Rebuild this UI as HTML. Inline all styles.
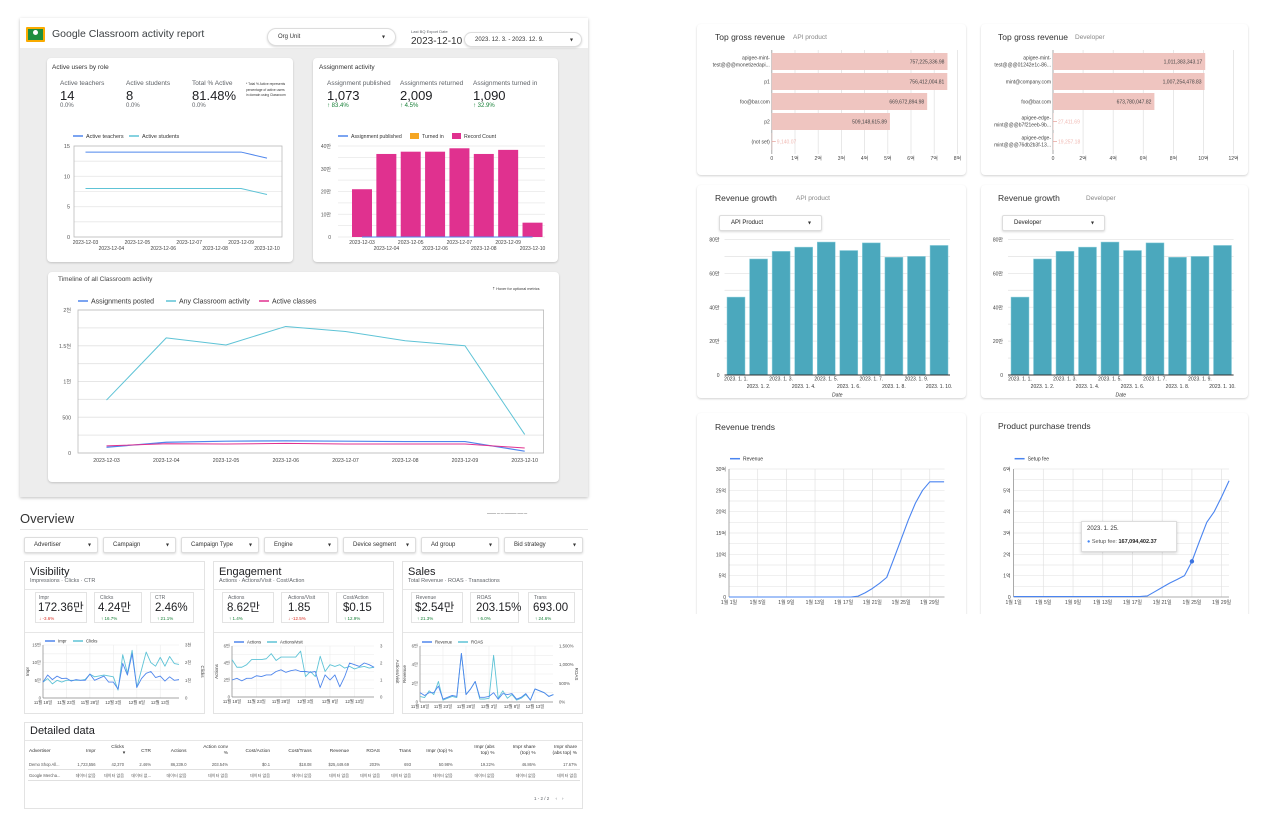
<!DOCTYPE html>
<html><head><meta charset="utf-8">
<style>
*{box-sizing:border-box;margin:0;padding:0}
body{width:1280px;height:838px;position:relative;background:#fff;font-family:"Liberation Sans","Noto Sans CJK KR",sans-serif;color:#202124;overflow:hidden}
.a{position:absolute}
.t{position:absolute;white-space:nowrap;line-height:1}
.card{position:absolute;background:#fff;border-radius:4px;box-shadow:0 1px 2px rgba(0,0,0,.18)}
.sq{position:absolute;background:#fff;border:1px solid #e3e3e3}
.dd{position:absolute;background:#fff;border:1px solid #ddd;border-radius:2px;box-shadow:0 1px 2px rgba(0,0,0,.15);font-size:6px;color:#333}
.dd span{position:absolute;top:50%;transform:translateY(-50%)}
.g{color:#5f6368}
.red{color:#d93025}.grn{color:#188038}
svg{position:absolute;left:0;top:0;pointer-events:none}
</style></head><body>

<!-- ========== Google Classroom panel ========== -->
<div class="a" style="left:20px;top:18px;width:568px;height:479px;background:#ededed;box-shadow:0 1px 3px rgba(0,0,0,.25)"></div>
<div class="a" style="left:20px;top:18px;width:568px;height:30px;background:#fff"></div>
<div class="a" style="left:26px;top:27px;width:19px;height:15px;background:#1e8e3e;border:2px solid #f9ab00;border-radius:1px"></div>
<div class="a" style="left:33px;top:30px;width:5px;height:5px;border-radius:50%;background:#fff"></div>
<div class="t" style="left:52px;top:29px;font-size:10.5px;color:#3c4043">Google Classroom activity report</div>
<div class="dd" style="left:267px;top:28px;width:129px;height:18px;border-radius:9px"><span style="left:10px">Org Unit</span><span style="right:10px">▾</span></div>
<div class="t g" style="left:411px;top:30px;font-size:4px">Last BQ Export Date</div>
<div class="t" style="left:411px;top:37px;font-size:10px;color:#333">2023-12-10</div>
<div class="dd" style="left:464px;top:32px;width:118px;height:15px;border-radius:8px"><span style="left:10px">2023. 12. 3. - 2023. 12. 9.</span><span style="right:8px">▾</span></div>

<div class="card" style="left:47px;top:58px;width:246px;height:204px"></div>
<div class="t" style="left:52px;top:65px;font-size:6.5px;color:#333">Active users by role</div>
<div class="t g" style="left:60px;top:81px;font-size:6.5px">Active teachers</div>
<div class="t" style="left:60px;top:89px;font-size:13px">14</div>
<div class="t g" style="left:60px;top:103px;font-size:6px">0.0%</div>
<div class="t g" style="left:126px;top:81px;font-size:6.5px">Active students</div>
<div class="t" style="left:126px;top:89px;font-size:13px">8</div>
<div class="t g" style="left:126px;top:103px;font-size:6px">0.0%</div>
<div class="t g" style="left:192px;top:81px;font-size:6.5px">Total % Active</div>
<div class="t" style="left:192px;top:89px;font-size:13px">81.48%</div>
<div class="t g" style="left:192px;top:103px;font-size:6px">0.0%</div>
<div class="a" style="left:246px;top:82px;width:42px;font-size:3.3px;line-height:1.7;color:#333">* Total % Active represents percentage of active users in domain using Classroom</div>

<div class="card" style="left:313px;top:58px;width:245px;height:204px"></div>
<div class="t" style="left:319px;top:65px;font-size:6.5px;color:#333">Assignment activity</div>
<div class="t g" style="left:327px;top:81px;font-size:6.5px">Assignment published</div>
<div class="t" style="left:327px;top:89px;font-size:13px">1,073</div>
<div class="t grn" style="left:327px;top:103px;font-size:6px">↑ 83.4%</div>
<div class="t g" style="left:400px;top:81px;font-size:6.5px">Assignments returned</div>
<div class="t" style="left:400px;top:89px;font-size:13px">2,009</div>
<div class="t grn" style="left:400px;top:103px;font-size:6px">↑ 4.5%</div>
<div class="t g" style="left:473px;top:81px;font-size:6.5px">Assignments turned in</div>
<div class="t" style="left:473px;top:89px;font-size:13px">1,090</div>
<div class="t grn" style="left:473px;top:103px;font-size:6px">↑ 32.9%</div>

<div class="card" style="left:48px;top:272px;width:511px;height:210px"></div>
<div class="t" style="left:58px;top:277px;font-size:6.5px;color:#444">Timeline of all Classroom activity</div>
<div class="t" style="left:492px;top:288px;font-size:3.8px;color:#333">⇡ Hover for optional metrics</div>

<!-- ========== Overview ========== -->
<div class="t" style="left:20px;top:512px;font-size:13px;color:#333">Overview</div>
<div class="a" style="left:20px;top:529px;width:568px;height:1px;background:#e6e6e6"></div>
<div class="t" style="left:487px;top:512px;font-size:3px;color:#bbb">▬▬▬ ▬ ▬ ▬▬▬▬ ▬▬ ▬</div>
<div class="dd" style="left:24px;top:537px;width:74px;height:16px"><span style="left:9px">Advertiser</span><span style="right:6px">▾</span></div>
<div class="dd" style="left:103px;top:537px;width:73px;height:16px"><span style="left:9px">Campaign</span><span style="right:6px">▾</span></div>
<div class="dd" style="left:181px;top:537px;width:78px;height:16px"><span style="left:9px">Campaign Type</span><span style="right:6px">▾</span></div>
<div class="dd" style="left:264px;top:537px;width:74px;height:16px"><span style="left:9px">Engine</span><span style="right:6px">▾</span></div>
<div class="dd" style="left:343px;top:537px;width:73px;height:16px"><span style="left:9px">Device segment</span><span style="right:6px">▾</span></div>
<div class="dd" style="left:421px;top:537px;width:78px;height:16px"><span style="left:9px">Ad group</span><span style="right:6px">▾</span></div>
<div class="dd" style="left:504px;top:537px;width:79px;height:16px"><span style="left:9px">Bid strategy</span><span style="right:6px">▾</span></div>

<!-- Visibility -->
<div class="sq" style="left:24px;top:561px;width:181px;height:153px"></div>
<div class="t" style="left:30px;top:567px;font-size:11px">Visibility</div>
<div class="t g" style="left:30px;top:579px;font-size:5.5px">Impressions · Clicks · CTR</div>
<div class="a" style="left:25px;top:589px;width:179px;height:1px;background:#e6e6e6"></div>
<div class="sq" style="left:35px;top:592px;width:52px;height:31px"></div>
<div class="t g" style="left:39px;top:596px;font-size:5px">Impr</div>
<div class="t" style="left:38px;top:603px;font-size:11.5px">172.36만</div>
<div class="t red" style="left:39px;top:617px;font-size:4.5px">↓ -3.6%</div>
<div class="sq" style="left:94px;top:592px;width:48px;height:31px"></div>
<div class="t g" style="left:100px;top:596px;font-size:5px">Clicks</div>
<div class="t" style="left:98px;top:603px;font-size:11.5px">4.24만</div>
<div class="t grn" style="left:101px;top:617px;font-size:4.5px">↑ 16.7%</div>
<div class="sq" style="left:150px;top:592px;width:44px;height:31px"></div>
<div class="t g" style="left:155px;top:596px;font-size:5px">CTR</div>
<div class="t" style="left:155px;top:603px;font-size:11.5px">2.46%</div>
<div class="t grn" style="left:157px;top:617px;font-size:4.5px">↑ 21.1%</div>
<div class="a" style="left:25px;top:632px;width:179px;height:1px;background:#e6e6e6"></div>

<!-- Engagement -->
<div class="sq" style="left:213px;top:561px;width:181px;height:153px"></div>
<div class="t" style="left:219px;top:567px;font-size:11px">Engagement</div>
<div class="t g" style="left:219px;top:579px;font-size:5.5px">Actions · Actions/Visit · Cost/Action</div>
<div class="a" style="left:214px;top:589px;width:179px;height:1px;background:#e6e6e6"></div>
<div class="sq" style="left:222px;top:592px;width:52px;height:31px"></div>
<div class="t g" style="left:228px;top:596px;font-size:5px">Actions</div>
<div class="t" style="left:227px;top:603px;font-size:11.5px">8.62만</div>
<div class="t grn" style="left:229px;top:617px;font-size:4.5px">↑ 1.4%</div>
<div class="sq" style="left:281px;top:592px;width:48px;height:31px"></div>
<div class="t g" style="left:288px;top:596px;font-size:5px">Actions/Visit</div>
<div class="t" style="left:288px;top:603px;font-size:11.5px">1.85</div>
<div class="t red" style="left:288px;top:617px;font-size:4.5px">↓ -12.5%</div>
<div class="sq" style="left:336px;top:592px;width:48px;height:31px"></div>
<div class="t g" style="left:343px;top:596px;font-size:5px">Cost/Action</div>
<div class="t" style="left:343px;top:603px;font-size:11.5px">$0.15</div>
<div class="t grn" style="left:344px;top:617px;font-size:4.5px">↑ 12.9%</div>
<div class="a" style="left:214px;top:632px;width:179px;height:1px;background:#e6e6e6"></div>

<!-- Sales -->
<div class="sq" style="left:402px;top:561px;width:181px;height:153px"></div>
<div class="t" style="left:408px;top:567px;font-size:11px">Sales</div>
<div class="t g" style="left:408px;top:579px;font-size:5.5px">Total Revenue · ROAS · Transactions</div>
<div class="a" style="left:403px;top:589px;width:179px;height:1px;background:#e6e6e6"></div>
<div class="sq" style="left:411px;top:592px;width:52px;height:31px"></div>
<div class="t g" style="left:416px;top:596px;font-size:5px">Revenue</div>
<div class="t" style="left:415px;top:603px;font-size:11.5px">$2.54만</div>
<div class="t grn" style="left:417px;top:617px;font-size:4.5px">↑ 21.3%</div>
<div class="sq" style="left:470px;top:592px;width:49px;height:31px"></div>
<div class="t g" style="left:477px;top:596px;font-size:5px">ROAS</div>
<div class="t" style="left:476px;top:603px;font-size:11.5px">203.15%</div>
<div class="t grn" style="left:477px;top:617px;font-size:4.5px">↑ 6.0%</div>
<div class="sq" style="left:528px;top:592px;width:47px;height:31px"></div>
<div class="t g" style="left:534px;top:596px;font-size:5px">Trans</div>
<div class="t" style="left:533px;top:603px;font-size:11.5px">693.00</div>
<div class="t grn" style="left:535px;top:617px;font-size:4.5px">↑ 24.6%</div>
<div class="a" style="left:403px;top:632px;width:179px;height:1px;background:#e6e6e6"></div>

<!-- Detailed data -->
<div class="sq" style="left:24px;top:722px;width:559px;height:87px"></div>
<div class="t" style="left:30px;top:726px;font-size:11px">Detailed data</div>
<div class="a" style="left:25px;top:740px;width:557px;height:1px;background:#e6e6e6"></div>
<div class="a" style="left:28px;top:769px;width:552px;height:1px;background:#e0e0e0"></div>
<div class="a" style="left:28px;top:780px;width:552px;height:1px;background:#e0e0e0"></div>
<div class="t g" style="left:534px;top:797px;font-size:4.5px">1 - 2 / 2 &nbsp;&nbsp;&nbsp; ‹ &nbsp;&nbsp; ›</div>

<!-- ========== Right side cards ========== -->
<div class="card" style="left:697px;top:24px;width:269px;height:151px"></div>
<div class="t" style="left:715px;top:33px;font-size:8.5px;color:#333">Top gross revenue</div>
<div class="t g" style="left:793px;top:35px;font-size:6.5px;color:#888">API product</div>
<div class="card" style="left:981px;top:24px;width:267px;height:151px"></div>
<div class="t" style="left:998px;top:33px;font-size:8.5px;color:#333">Top gross revenue</div>
<div class="t g" style="left:1075px;top:35px;font-size:6.5px;color:#888">Developer</div>

<div class="card" style="left:697px;top:185px;width:269px;height:213px"></div>
<div class="t" style="left:715px;top:194px;font-size:8.5px;color:#333">Revenue growth</div>
<div class="t" style="left:796px;top:196px;font-size:6.5px;color:#888">API product</div>
<div class="dd" style="left:719px;top:215px;width:103px;height:16px"><span style="left:11px;color:#222">API Product</span><span style="right:10px">▾</span></div>
<div class="card" style="left:981px;top:185px;width:267px;height:213px"></div>
<div class="t" style="left:998px;top:194px;font-size:8.5px;color:#333">Revenue growth</div>
<div class="t" style="left:1086px;top:196px;font-size:6.5px;color:#888">Developer</div>
<div class="dd" style="left:1002px;top:215px;width:103px;height:16px"><span style="left:11px;color:#222">Developer</span><span style="right:10px">▾</span></div>

<div class="card" style="left:697px;top:413px;width:269px;height:210px"></div>
<div class="t" style="left:715px;top:423px;font-size:8.5px;color:#333">Revenue trends</div>
<div class="card" style="left:981px;top:413px;width:267px;height:210px"></div>
<div class="t" style="left:998px;top:422px;font-size:8.5px;color:#333">Product purchase trends</div>
<div class="a" style="left:690px;top:614px;width:570px;height:30px;background:#fff"></div>

<svg id="charts" width="1280" height="838"></svg>

<div class="a" style="left:1081px;top:521px;width:96px;height:31px;background:#fff;border:1px solid #ddd;box-shadow:0 1px 3px rgba(0,0,0,.2)"></div>
<div class="t" style="left:1087px;top:526px;font-size:6px;color:#333">2023. 1. 25.</div>
<div class="t" style="left:1087px;top:540px;font-size:5.5px;color:#555"><span style="color:#4285f4">●</span> Setup fee: <b style="color:#222">167,094,402.37</b></div>

<script>
// ---------- data ----------
const auDates=['2023-12-03','2023-12-04','2023-12-05','2023-12-06','2023-12-07','2023-12-08','2023-12-09','2023-12-10'];
const auTeachers=[14,14,14,14,14,14,14,13];
const auStudents=[8,8,8,8,8,8,8,7];
const auTicks=[0,5,10,15];

const asDates=['2023-12-03','2023-12-04','2023-12-05','2023-12-06','2023-12-07','2023-12-08','2023-12-09','2023-12-10'];
const asRecord=[21,36.5,37.5,37.5,39,36.5,38.3,6.3];
const asPublished=[0,0,0,0,0,0,0,0];
const asTicks=[0,10,20,30,40];
const asTickLabels=['0','10만','20만','30만','40만'];

const tlDates=['2023-12-03','2023-12-04','2023-12-05','2023-12-06','2023-12-07','2023-12-08','2023-12-09','2023-12-10'];
const tlAny=[740,1610,1510,1770,1700,1570,1500,260];
const tlPosted=[80,150,165,170,165,160,160,25];
const tlClasses=[100,130,125,135,125,125,125,70];
const tlTicks=[0,500,1000,1500,2000];
const tlTickLabels=['0','500','1천','1.5천','2천'];

const smDates=['11월 18일','11월 23일','11월 28일','12월 3일','12월 8일','12월 13일'];
const visImpr=[4.5,6.5,5.2,6.2,5.5,5.6,4.8,5.2,5.0,5.0,6.8,5.0,5.6,6.2,4.5,4.5,2.5,9.8,6.5,12.5,3.0,5.5,7.0,7.5,5.8,6.2,4.8,6.0,5.0,5.2];
const visClicks=[0.9,1.1,0.8,1.0,0.9,1.0,1.0,1.0,1.0,1.05,1.35,1.2,1.25,1.3,1.25,1.2,0.45,2.45,1.4,2.7,0.6,1.6,2.6,2.0,1.8,2.3,1.8,2.35,1.95,1.9];
const engActions=[2.0,2.2,1.9,2.2,2.2,2.5,2.4,2.6,2.6,3.0,3.2,2.9,3.1,3.2,3.0,3.0,2.9,3.0,1.1,2.6,2.0,2.6,1.2,2.4,4.0,3.8,3.6,4.0,3.8,3.5];
const engPerVisit=[2.2,1.75,1.75,1.9,2.2,2.2,2.2,2.25,2.55,2.15,2.35,2.35,2.35,2.35,2.7,1.2,1.5,1.2,2.4,1.5,1.9,1.8,1.9,1.7,1.8,1.65,1.75,1.8,1.7,1.75];
const salesRevenue=[1.0,0.7,1.0,1.0,1.7,0.3,0.5,0.7,0.6,5.2,0.8,1.4,2.2,0.5,0.5,0.6,1.0,0.3,0.9,0.8,0.9,0.3,0.5,0.9,0.2,1.4,1.2,1.0,0.6,0.8];
const salesRoas=[150,120,300,200,550,50,100,150,120,1300,200,350,550,80,80,100,1250,100,300,100,200,50,100,200,50,350,300,250,150,200];

const tg1Labels=[['apigee-mint-','test@@@monetizedapi...'],['p1'],['foo@bar.com'],['p2'],['(not set)']];
const tg1Values=[757225336.98,756412004.81,669672894.98,509148615.89,9140.07];
const tg1Text=['757,225,336.98','756,412,004.81','669,672,894.98','509,148,615.89','9,140.07'];
const tg1Ticks=[0,1,2,3,4,5,6,7,8];
const tg2Labels=[['apigee-mint-','test@@@01242e1c-86...'],['mint@company.com'],['foo@bar.com'],['apigee-edge-','mint@@@b7f21eeb-9b...'],['apigee-edge-','mint@@@76db2b3f-13...']];
const tg2Values=[1011383343.17,1007254478.83,673780047.82,27411.69,19257.18];
const tg2Text=['1,011,383,343.17','1,007,254,478.83','673,780,047.82','27,411.69','19,257.18'];
const tg2Ticks=[0,2,4,6,8,10,12];

const rgDates=['2023. 1. 1.','2023. 1. 2.','2023. 1. 3.','2023. 1. 4.','2023. 1. 5.','2023. 1. 6.','2023. 1. 7.','2023. 1. 8.','2023. 1. 9.','2023. 1. 10.'];
const rgProduct=[46,68.5,73,75.5,78.5,73.5,78,69.5,70,76.5];
const rgDeveloper=[46,68.5,73,75.5,78.5,73.5,78,69.5,70,76.5];
const rgTicks=[0,20,40,60,80];

const trDayLabels=['1월 1일','1월 5일','1월 9일','1월 13일','1월 17일','1월 21일','1월 25일','1월 29일'];
const trRevenue=[0,0,0,0,0,0,0,0,0,0,0,0,0,0,0,0,0,0,0.2,1.0,2.0,3.2,4.6,9,13.5,18,22,25,27,27,27];
const trTicks=[0,5,10,15,20,25,30];
const ppSetupFee=[0.02,0.02,0.02,0.02,0.02,0.02,0.02,0.02,0.02,0.02,0.02,0.02,0.02,0.02,0.02,0.02,0.02,0.02,0.05,0.25,0.45,0.65,0.82,1.0,1.67,2.6,3.5,4.0,4.7,5.45];
const ppTicks=[0,1,2,3,4,5,6];

const tblHeaders=[['Advertiser'],['Impr'],['Clicks','▾'],['CTR'],['Actions'],['Action conv','%'],['Cost/Action'],['Cost/Trans'],['Revenue'],['ROAS'],['Trans'],['Impr (top) %'],['Impr (abs','top) %'],['Impr share','(top) %'],['Impr share','(abs top) %']];
const tblRow1=['Demo Shop All...','1,723,556','42,370','2.46%','86,239.0','203.54%','$0.1','$18.08','$25,449.69','203%','693','50.98%','19.22%','46.86%','17.67%'];
const tblRow2=['Google Mercha...','데이터 없음','데이터 없음','데이터 없...','데이터 없음','데이터 없음','데이터 없음','데이터 없음','데이터 없음','데이터 없음','데이터 없음','데이터 없음','데이터 없음','데이터 없음','데이터 없음'];

// ---------- helpers ----------
const NS='http://www.w3.org/2000/svg';
const svg=document.getElementById('charts');
function mk(tag,a,parent){const e=document.createElementNS(NS,tag);for(const k in a)e.setAttribute(k,a[k]);(parent||svg).appendChild(e);return e;}
function lin(d0,d1,r0,r1){return v=>r0+(v-d0)*(r1-r0)/(d1-d0);}
function txt(x,y,s,size,fill,anchor,parent){const t=mk('text',{x:x,y:y,'font-size':size,fill:fill||'#555','text-anchor':anchor||'start','font-family':'Liberation Sans, Noto Sans CJK KR, sans-serif'},parent);t.textContent=s;return t;}
function hline(x0,x1,y,c,w,parent){return mk('line',{x1:x0,x2:x1,y1:y,y2:y,stroke:c,'stroke-width':w||0.6},parent);}
function vline(x,y0,y1,c,w,parent){return mk('line',{x1:x,x2:x,y1:y0,y2:y1,stroke:c,'stroke-width':w||0.6},parent);}
function path(vals,xf,yf,c,w,parent){let d='';vals.forEach((v,i)=>{d+=(i?'L':'M')+xf(i).toFixed(2)+','+yf(v).toFixed(2);});return mk('path',{d:d,fill:'none',stroke:c,'stroke-width':w||1,'stroke-linejoin':'round'},parent);}
function legendLine(x,y,c,label,size,parent){mk('line',{x1:x,x2:x+10,y1:y,y2:y,stroke:c,'stroke-width':1.5},parent);txt(x+13,y+size*0.35,label,size,'#333','start',parent);}

const BLUE='#4f86ec', TEAL='#5ec3d6', PINK='#e0318f';

// ---------- Active users chart ----------
{
  const g=mk('g',{});
  
  
  const x=i=>85.5+i*(267-85.5)/(auDates.length-1), y=lin(0,15,237,146);
  for(let v=0;v<=15;v+=2.5) hline(74,282,y(v),'#e8e8e8',0.8,g);
  mk('rect',{x:74,y:146,width:208,height:91,fill:'none',stroke:'#bbb','stroke-width':0.8},g);
  auTicks.forEach(v=>txt(70,y(v)+2,String(v),5.5,'#555','end',g));
  auDates.forEach((d,i)=>txt(x(i),i%2?250:244,d,5,'#444','middle',g));
  const p1=path(auTeachers,x,y,BLUE,1,g);
  
  const p2=path(auStudents,x,y,TEAL,1,g);
  
  legendLine(73,136,BLUE,'Active teachers',5.5,g);
  legendLine(129,136,TEAL,'Active students',5.5,g);
}
// ---------- Assignment bars ----------
{
  const g=mk('g',{});
  
  
  const cx=i=>362+i*24.36, y=lin(0,40,237,146);
  for(let v=0;v<=40;v+=5) hline(338,545,y(v),'#e8e8e8',0.8,g);
  asTicks.forEach((v,i)=>txt(331,y(v)+2,asTickLabels[i],5,'#555','end',g));
  asRecord.forEach((v,i)=>{const r=mk('rect',{x:cx(i)-10,y:y(v),width:20,height:y(0)-y(v),fill:PINK},g);
    });
  const pl=path(asPublished,cx,y,BLUE,1,g);
  
  asDates.forEach((d,i)=>txt(cx(i),i%2?250:244,d,5,'#444','middle',g));
  legendLine(338,136,BLUE,'Assignment published',5.2,g);
  mk('rect',{x:410,y:133,width:9,height:6,fill:'#f5a623'},g);txt(422,138,'Turned in',5.2,'#333','start',g);
  mk('rect',{x:452,y:133,width:9,height:6,fill:PINK},g);txt(464,138,'Record Count',5.2,'#333','start',g);
}
// ---------- Timeline ----------
{
  const g=mk('g',{});
  
  
  const x=i=>106.5+i*(524.7-106.5)/(tlDates.length-1), y=lin(0,2000,453,310);
  for(let v=0;v<=2000;v+=250) hline(78,543.6,y(v),'#e6e6e6',0.9,g);
  mk('rect',{x:78,y:310,width:465.6,height:143,fill:'none',stroke:'#bbb','stroke-width':0.8},g);
  tlTicks.forEach((v,i)=>txt(71,y(v)+2,tlTickLabels[i],5.2,'#555','end',g));
  tlDates.forEach((d,i)=>txt(x(i),462,d,5.2,'#444','middle',g));
  const a=path(tlAny,x,y,TEAL,1,g);
  
  const b=path(tlPosted,x,y,BLUE,1.2,g);
  
  const c=path(tlClasses,x,y,PINK,1,g);
  
  legendLine(78,301,BLUE,'Assignments posted',7,g);
  legendLine(166,301,TEAL,'Any Classroom activity',7,g);
  legendLine(259,301,PINK,'Active classes',7,g);
}
// ---------- small dual-axis charts ----------
function smallChart(name,x0,step,yTop,yBot,xEnd,left,lmax,lticks,llabels,right,rmax,rticks,rlabels,n1,n2,t1,t2,lg2){
  const g=mk('g',{});
  
  
  const x=i=>x0+i*step, yl=lin(0,lmax,yBot,yTop), yr=lin(0,rmax,yBot,yTop);
  for(let k=0;k<=6;k++) hline(x0,xEnd,yBot-(yBot-yTop)*k/6,'#ececec',0.6,g);
  for(let i=0;i<left.length;i+=5) vline(x(i),yTop,yBot,'#ececec',0.6,g);
  vline(x0,yTop,yBot,'#888',0.7,g);hline(x0,xEnd,yBot,'#888',0.7,g);
  lticks.forEach((v,i)=>txt(x0-2,yl(v)+1.5,llabels[i],4.3,'#555','end',g));
  rticks.forEach((v,i)=>txt(xEnd+6,yr(v)+1.5,rlabels[i],4.3,'#555','start',g));
  smDates.forEach((d,i)=>txt(x(i*5),yBot+6,d,4.3,'#444','middle',g));
  const a=mk('text',{x:0,y:0,'font-size':4.5,fill:'#444','text-anchor':'middle',transform:'translate('+(x0-14)+','+((yTop+yBot)/2)+') rotate(-90)'},g);a.textContent=t1;
  const b=mk('text',{x:0,y:0,'font-size':4.5,fill:'#444','text-anchor':'middle',transform:'translate('+(xEnd+22)+','+((yTop+yBot)/2)+') rotate(90)'},g);b.textContent=t2;
  const p2=path(right,x,yr,TEAL,0.9,g);
  
  const p1=path(left,x,yl,BLUE,0.9,g);
  
  legendLine(x0+2,yTop-4,BLUE,n1,4.3,g);
  legendLine(x0+lg2,yTop-4,TEAL,n2,4.3,g);
}
smallChart('visibility-chart',43,4.69,645,698,179,visImpr,15,[0,5,10,15],['0','5만','10만','15만'],visClicks,3,[0,1,2,3],['0','1천','2천','3천'],'Impr','Clicks','Impr','Clicks',30);
smallChart('engagement-chart',232,4.9,646,697,374,engActions,6,[0,2,4,6],['0','2만','4만','6만'],engPerVisit,3,[0,1,2,3],['0','1','2','3'],'Actions','Actions/visit','Actions','Actions/visit',35);
smallChart('sales-chart',420,4.6,646,702,553,salesRevenue,6,[0,2,4,6],['0','2만','4만','6만'],salesRoas,1500,[0,500,1000,1500],['0%','500%','1,000%','1,500%'],'Revenue','ROAS','Revenue','ROAS',38);

// ---------- table ----------
{
  const g=mk('g',{});
  
  
  const colX=[29,95.6,124,151,186.5,228,270,311.6,349,380,411,452.7,494.5,535.6,577];
  tblHeaders.forEach((h,i)=>{
    const anc=i?'end':'start';
    if(h.length==1) txt(colX[i],752,h[0],4.8,'#333',anc,g);
    else {txt(colX[i],748,h[0],4.8,'#333',anc,g);txt(colX[i],754,h[1],4.8,'#333',i==2?'middle':anc,g);}
  });
  tblRow1.forEach((h,i)=>txt(colX[i],766,h,4.1,'#555',i?'end':'start',g));
  tblRow2.forEach((h,i)=>txt(colX[i],777,h,4.1,'#555',i?'end':'start',g));
}
// ---------- top gross revenue ----------
function hbar(name,axisX,perUnit,tickStep,ticks,labels,values,texts){
  const g=mk('g',{});
  
  
  const x=v=>axisX+v/1e8/tickStep*perUnit;
  ticks.forEach(t=>{vline(axisX+t/tickStep*perUnit,50,154,'#e3e3e3',0.8,g);txt(axisX+t/tickStep*perUnit,160,t?t+'억':'0',5,'#444','middle',g);});
  vline(axisX,50,154,'#999',0.8,g);
  values.forEach((v,i)=>{const cy=61.5+i*20;const w=x(v)-axisX;
    const r=mk('rect',{x:axisX,y:cy-8.5,width:Math.max(w,0.5),height:17,fill:'#efc5c0'},g);
    
    if(w>40) txt(x(v)-3,cy+2,texts[i],5,'#444','end',g);
    else {hline(axisX,axisX+4,cy,'#e8a9a3',0.8,g);txt(axisX+5,cy+2,texts[i],5,'#f0b8b2','start',g);}
    const L=labels[i];
    if(L.length==1) txt(axisX-2,cy+2,L[0],5,'#444','end',g);
    else {txt(axisX-2,cy-2,L[0],5,'#444','end',g);txt(axisX-2,cy+5,L[1],5,'#444','end',g);}
  });
}
hbar('top-revenue-product-chart',771.8,23.2,1,tg1Ticks,tg1Labels,tg1Values,tg1Text);
hbar('top-revenue-developer-chart',1053,15.05,1,tg2Ticks,tg2Labels,tg2Values,tg2Text);
// ---------- revenue growth ----------
function vbars(name,gx0,gx1,c0,spacing,values){
  const g=mk('g',{});
  
  
  const y=lin(0,80,375,239.5), cx=i=>c0+i*spacing;
  for(let v=0;v<=80;v+=10) hline(gx0,gx1,y(v),'#e6e6e6',0.8,g);
  rgTicks.forEach(v=>txt(gx0-5,y(v)+2,v?v+'만':'0',5,'#444','end',g));
  values.forEach((v,i)=>{const r=mk('rect',{x:cx(i)-9,y:y(v),width:18,height:y(0)-y(v),fill:'#4ba8bd',stroke:'#8fd0dd','stroke-width':0.5},g);
    });
  hline(gx0,gx1,375,'#333',1,g);
  rgDates.forEach((d,i)=>txt(cx(i),i%2?388:380.5,d,5,'#333','middle',g));
  const dt=txt((gx0+gx1)/2,396.5,'Date',5,'#333','middle',g);dt.setAttribute('font-style','italic');
}
vbars('revenue-growth-product-chart',724.5,950,736,22.56,rgProduct);
vbars('revenue-growth-developer-chart',1008,1233.6,1020,22.5,rgDeveloper);
// ---------- trend lines ----------
function trend(name,x0,perDay,xEnd,max,ticks,values,legend,marker){
  const g=mk('g',{});
  
  
  const x=i=>x0+i*perDay, y=lin(0,max,597,469);
  for(let k=0;k<=ticks.length*2-2;k++) hline(x0,xEnd,597-(128)*k/(ticks.length*2-2),'#e6e6e6',0.7,g);
  trDayLabels.forEach((d,i)=>{vline(x(i*4),469,597,'#e2e2e2',0.7,g);txt(x(i*4),604,d,5,'#444','middle',g);});
  ticks.forEach(v=>txt(x0-3,y(v)+2,v?v+'억':'0',5,'#444','end',g));
  vline(x0,469,597,'#999',0.8,g);hline(x0,xEnd,597,'#999',0.8,g);
  const p=path(values,x,y,'#4a84f0',1.1,g);
  
  legendLine(x0+1,458.7,'#4a84f0',legend,5,g);
  if(marker!==undefined){const c=mk('circle',{cx:x(marker),cy:y(values[marker]),r:2.2,fill:'#3b73e0'},g);
    }
}
trend('revenue-trends-chart',729,7.17,944.5,30,trTicks,trRevenue,'Revenue');
trend('product-purchase-chart',1013.6,7.43,1229,6,ppTicks,ppSetupFee,'Setup fee',24);
</script>
</body></html>
